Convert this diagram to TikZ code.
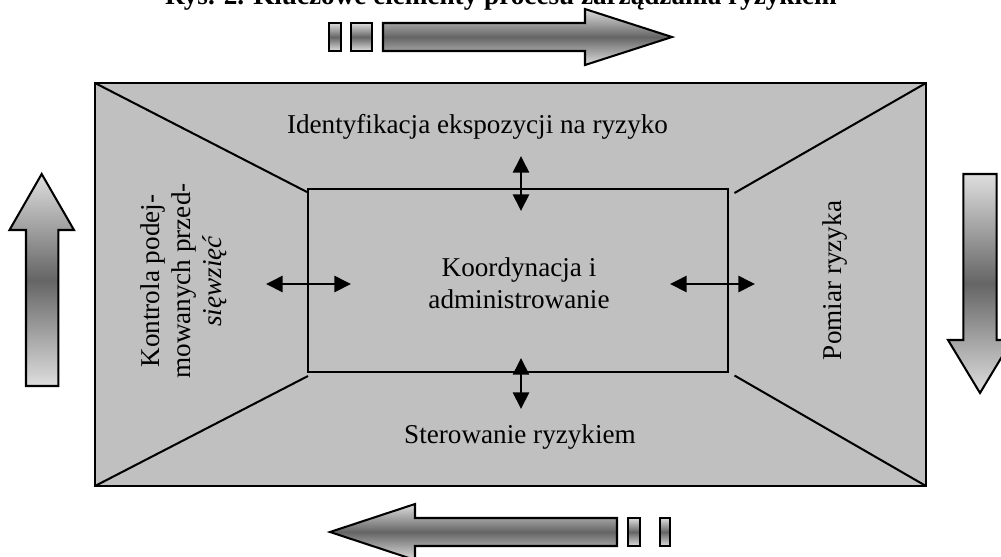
\documentclass[tikz,border=0pt]{standalone}
\usepackage{fontspec}
\setmainfont{Liberation Serif}
\usetikzlibrary{arrows.meta}
\definecolor{panel}{HTML}{C0C0C0}
\definecolor{lightg}{HTML}{DEDEDE}
\definecolor{darkg}{HTML}{656565}
\begin{document}
\begin{tikzpicture}[x=0.4417pt,y=-0.4417pt,
  every node/.style={font=\fontsize{12}{13.8}\selectfont, inner sep=0pt},
  box/.style={draw=black, line width=0.9pt},
  panelbox/.style={box, fill=panel},
  diag/.style={draw=black, line width=0.9pt},
  bigarrow/.style={draw=black, line width=0.9pt, top color=lightg, bottom color=lightg, middle color=darkg},
  dbl/.style={line width=1.2pt, {Triangle[length=7.3pt,width=7pt]}-{Triangle[length=7.3pt,width=7pt]}}]
\useasboundingbox (0,0) rectangle (1001,556);
\clip (0,0) rectangle (1001,556);
% title (cut at top)
\node[font=\fontsize{12}{13.8}\selectfont\bfseries, anchor=base] (title) at (501,4) {Rys. 2. Kluczowe elementy procesu zarządzania ryzykiem};
% outer and inner frames
\coordinate (oTL) at (95,83);
\coordinate (oTR) at (926,83);
\coordinate (oBL) at (95,486);
\coordinate (oBR) at (926,486);
\coordinate (iTL) at (308,189);
\coordinate (iBR) at (728,372);
\draw[panelbox] (oTL) rectangle (oBR);
\draw[box] (iTL) rectangle (iBR);
% diagonals
\coordinate (dTL) at (307,192);
\coordinate (dBL) at (308,376);
\coordinate (dTR) at (734.5,193);
\coordinate (dBR) at (734.5,375.5);
\draw[diag] (oTL) -- (dTL);
\draw[diag] (oBL) -- (dBL);
\draw[diag] (oTR) -- (dTR);
\draw[diag] (oBR) -- (dBR);
% double arrows
\coordinate (lA) at (266,284);
\coordinate (lB) at (351,284);
\coordinate (rA) at (670,284);
\coordinate (rB) at (755,284);
\coordinate (tA) at (521,156);
\coordinate (tB) at (521,211);
\coordinate (bA) at (521,358);
\coordinate (bB) at (521,409);
\draw[dbl] (lA) -- (lB);
\draw[dbl] (rA) -- (rB);
\draw[dbl] (tA) -- (tB);
\draw[dbl] (bA) -- (bB);
% texts
\node[anchor=base] (ident) at (477.5,133) {Identyfikacja ekspozycji na ryzyko};
\node[anchor=base, align=center] (koord) at (519,308) {Koordynacja i\\administrowanie};
\node[anchor=base] (ster) at (520,443) {Sterowanie ryzykiem};
\node[rotate=90] (pomiar) at (835.5,280.5) {Pomiar ryzyka};
\node[rotate=90, align=center] (kontrola) at (184,281) {Kontrola podej-\\mowanych przed-\\\textit{sięwzięć}};
% big arrows
% top (rightwards)
\draw[bigarrow] (329,23) rectangle (341,51);
\draw[bigarrow] (351,23) rectangle (372,51);
\draw[bigarrow] (383,23) -- (585,23) -- (585,9) -- (672,37) -- (585,65) -- (585,51) -- (383,51) -- cycle;
% bottom (leftwards)
\draw[bigarrow] (617,518) -- (415,518) -- (415,504) -- (330,532) -- (415,560) -- (415,546) -- (617,546) -- cycle;
\draw[bigarrow] (628,518) rectangle (640,546);
\draw[bigarrow] (660,518) rectangle (670,546);
% left (upwards)
\draw[bigarrow] (26,386) -- (26,230) -- (9.5,230) -- (41.7,174) -- (74,230) -- (58.3,230) -- (58.3,386) -- cycle;
% right (downwards)
\draw[bigarrow] (963.3,174) -- (996.7,174) -- (996.7,340) -- (1012,340) -- (980,393) -- (948,340) -- (963.3,340) -- cycle;
\end{tikzpicture}
\end{document}
